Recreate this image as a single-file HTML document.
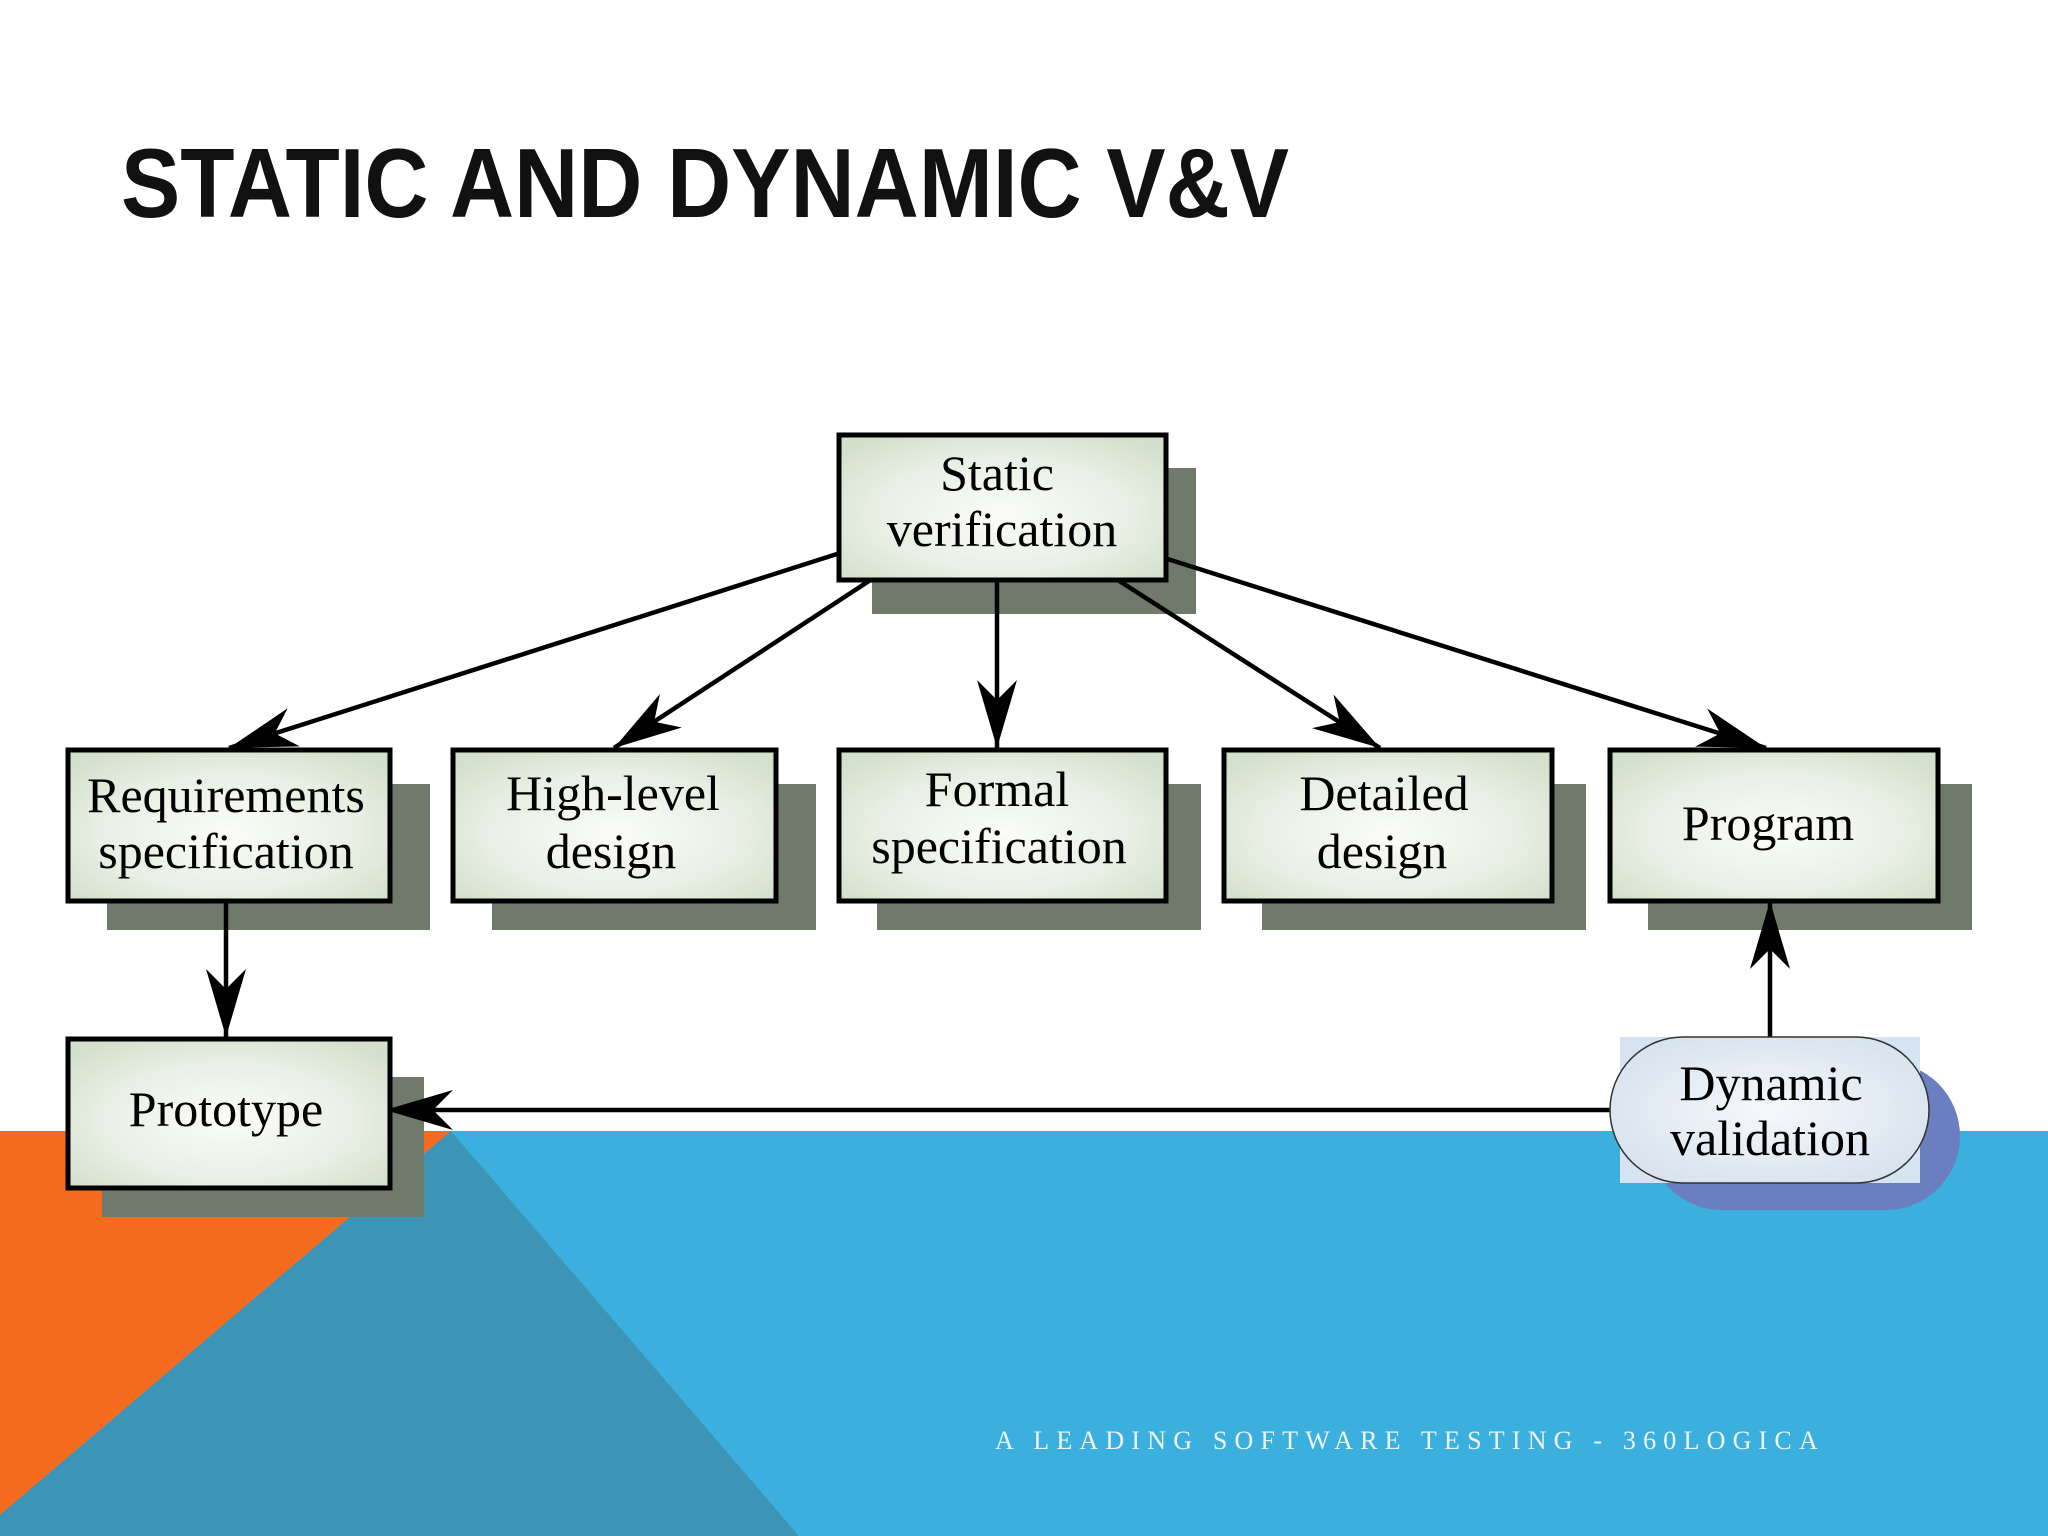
<!DOCTYPE html>
<html><head><meta charset="utf-8"><style>
html,body{margin:0;padding:0;background:#fff}
svg{display:block}
</style></head><body>
<svg width="2048" height="1536" viewBox="0 0 2048 1536" xmlns="http://www.w3.org/2000/svg">
<defs>
<radialGradient id="bg" cx="0.5" cy="0.55" r="0.65">
<stop offset="0" stop-color="#fbfcf8"/><stop offset="0.6" stop-color="#e9efe4"/><stop offset="1" stop-color="#d3e0cc"/>
</radialGradient>
<radialGradient id="pg" cx="0.5" cy="0.5" r="0.6">
<stop offset="0" stop-color="#f6f8fb"/><stop offset="1" stop-color="#d6e2ee"/>
</radialGradient>
<marker id="ah" markerUnits="userSpaceOnUse" markerWidth="70" markerHeight="44" viewBox="0 0 70 44" refX="68" refY="22" orient="auto">
<path d="M0,2 L68,22 L0,42 L20,22 Z" fill="#000"/>
</marker>
</defs>
<rect x="0" y="1131" width="2048" height="405" fill="#3bb0de"/>
<polygon points="0,1131 451,1131 0,1515" fill="#f76b1f"/>
<polygon points="451,1131 0,1515 0,1536 799,1536" fill="#3c95b6"/>
<text x="121" y="217" font-family="Liberation Sans, sans-serif" font-weight="bold" font-size="98" textLength="1168" lengthAdjust="spacingAndGlyphs" fill="#111">STATIC AND DYNAMIC V&amp;V</text>
<g fill="#6f7a6a">
<rect x="872" y="468" width="324" height="146"/>
<rect x="107" y="784" width="323" height="146"/>
<rect x="492" y="784" width="324" height="146"/>
<rect x="877" y="784" width="324" height="146"/>
<rect x="1262" y="784" width="324" height="146"/>
<rect x="1648" y="784" width="324" height="146"/>
<rect x="102" y="1077" width="322" height="140"/>
</g>
<rect x="1648" y="1062" width="312" height="148" rx="74" fill="#6b7fc0"/>
<g stroke="#000" stroke-width="4.5" fill="none" marker-end="url(#ah)">
<line x1="837" y1="554" x2="229" y2="748"/>
<line x1="872" y1="579" x2="614" y2="748"/>
<line x1="997" y1="582" x2="997" y2="748"/>
<line x1="1110" y1="575" x2="1380" y2="748"/>
<line x1="1158" y1="556" x2="1766" y2="748"/>
<line x1="226" y1="901" x2="226" y2="1037"/>
<line x1="1770" y1="1037" x2="1770" y2="901"/>
<line x1="1610" y1="1110" x2="385" y2="1110"/>
</g>
<g fill="url(#bg)" stroke="#000" stroke-width="5">
<rect x="839" y="435" width="327" height="145"/>
<rect x="68" y="750" width="322" height="151"/>
<rect x="453" y="750" width="323" height="151"/>
<rect x="839" y="750" width="327" height="151"/>
<rect x="1224" y="750" width="328" height="151"/>
<rect x="1610" y="750" width="328" height="151"/>
<rect x="68" y="1039" width="322" height="149"/>
</g>
<rect x="1620" y="1037" width="300" height="146" fill="#d6e3f0"/>
<rect x="1610" y="1037" width="319" height="146" rx="73" fill="url(#pg)" stroke="#333" stroke-width="1.5"/>
<g font-family="Liberation Serif, serif" font-size="50" fill="#000" text-anchor="middle">
<text x="997" y="490">Static</text>
<text x="1002" y="546">verification</text>
<text x="226" y="812">Requirements</text>
<text x="226" y="868">specification</text>
<text x="613" y="810">High-level</text>
<text x="611" y="868">design</text>
<text x="997" y="806">Formal</text>
<text x="999" y="863">specification</text>
<text x="1384" y="810">Detailed</text>
<text x="1382" y="868">design</text>
<text x="1768" y="840">Program</text>
<text x="226" y="1126">Prototype</text>
<text x="1771" y="1100">Dynamic</text>
<text x="1770" y="1155">validation</text>
</g>
<text x="995" y="1449" font-family="Liberation Serif, serif" font-size="26" letter-spacing="7.2" fill="#eef6fa">A LEADING SOFTWARE TESTING - 360LOGICA</text>
</svg>
</body></html>
